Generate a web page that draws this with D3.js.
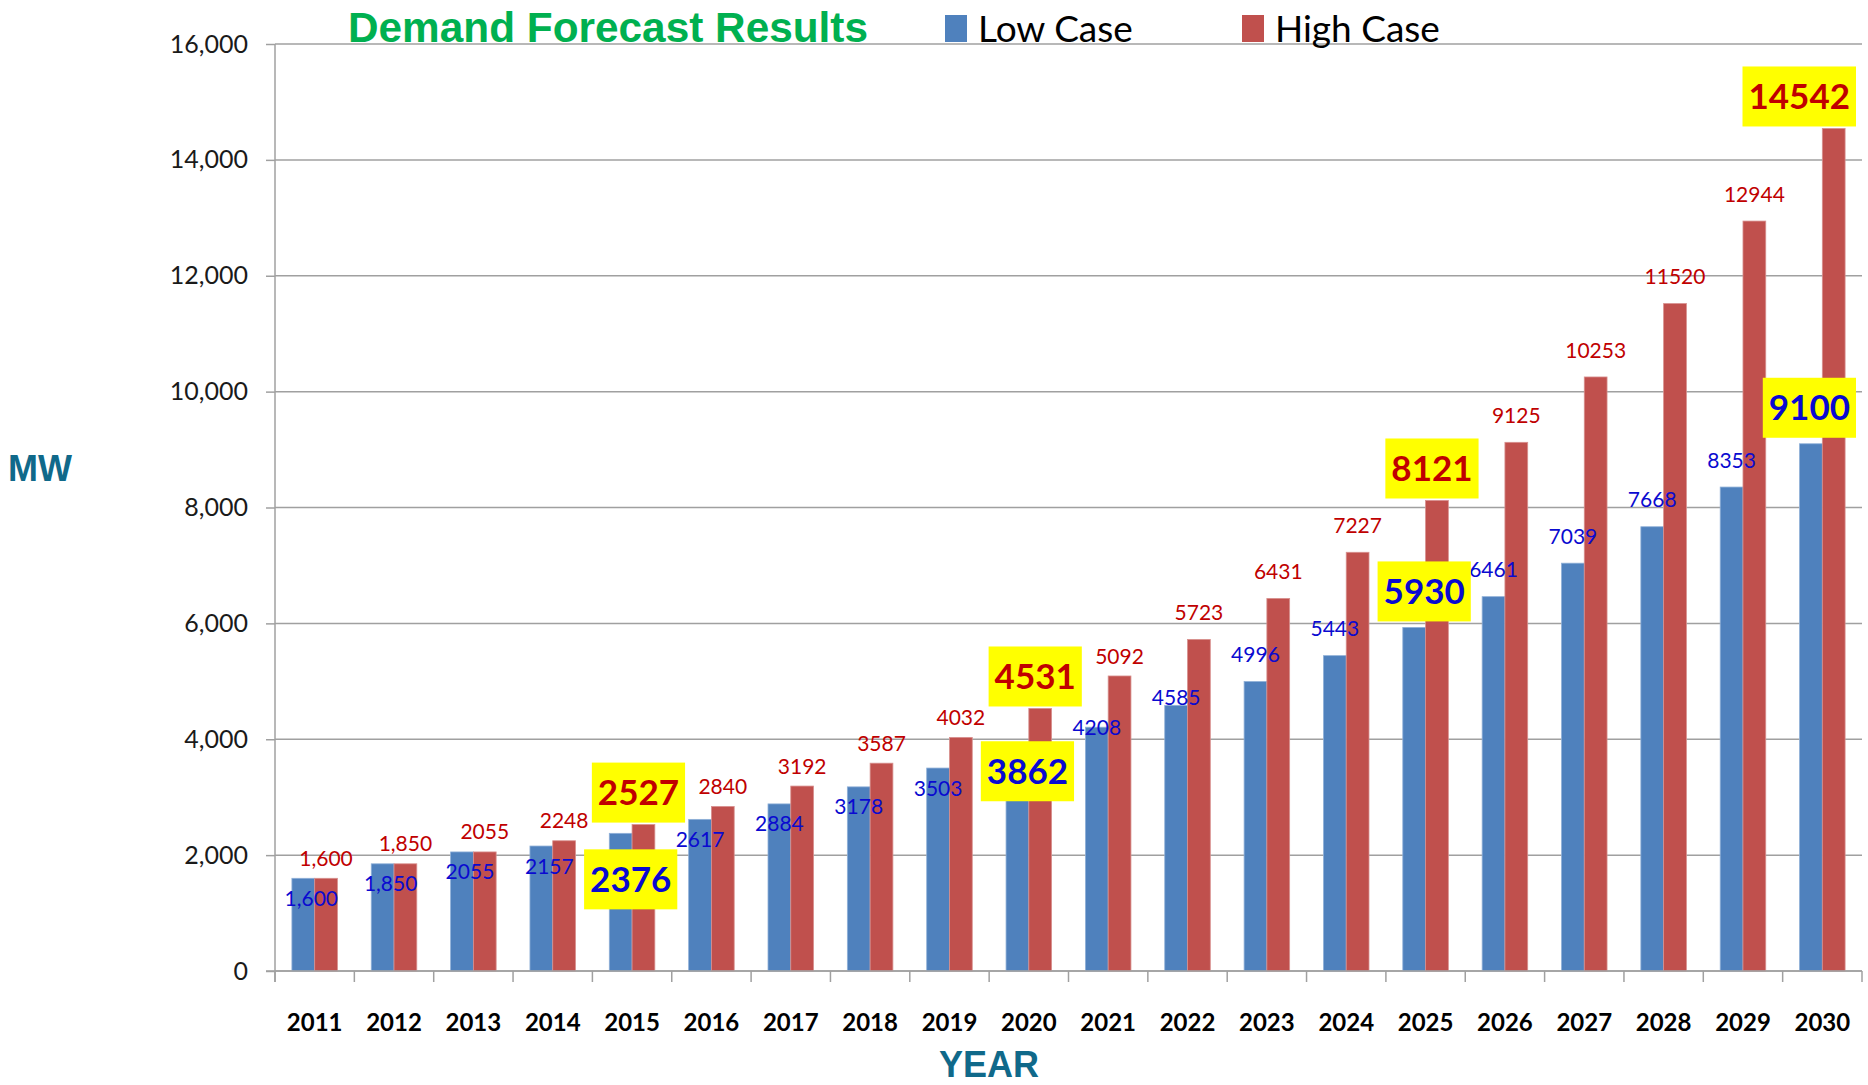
<!DOCTYPE html>
<html>
<head>
<meta charset="utf-8">
<script src="https://cdn.jsdelivr.net/npm/d3@7"></script>
<style>
  html, body { margin: 0; padding: 0; background: #fff; }
  svg { display: block; }
</style>
</head>
<body>
<div id="chart"></div>
<script>
// data
var years = [2011, 2012, 2013, 2014, 2015, 2016, 2017, 2018, 2019, 2020,
             2021, 2022, 2023, 2024, 2025, 2026, 2027, 2028, 2029, 2030];
var lowCase = [1600, 1850, 2055, 2157, 2376, 2617, 2884, 3178, 3503, 3862,
               4208, 4585, 4996, 5443, 5930, 6461, 7039, 7668, 8353, 9100];
var highCase = [1600, 1850, 2055, 2248, 2527, 2840, 3192, 3587, 4032, 4531,
                5092, 5723, 6431, 7227, 8121, 9125, 10253, 11520, 12944, 14542];
var highlightYears = [2015, 2020, 2025, 2030];
var commaYears = [2011, 2012];
var yTicks = [0, 2000, 4000, 6000, 8000, 10000, 12000, 14000, 16000];
var seriesNames = ["Low Case", "High Case"];

var W = 1868, H = 1085;
var plotLeft = 275, plotRight = 1862, plotTop = 44, plotBottom = 971;
var blue = "#4F81BD", red = "#C0504D";
var blueText = "#0A0AD0", redText = "#C00000";
var numFont = "Lato, 'Open Sans', sans-serif";
var arialFont = "'Liberation Sans', Arial, sans-serif";

var svg = d3.select("#chart").append("svg")
	.attr("width", W)
	.attr("height", H);

var x0 = d3.scaleBand().domain(years).range([plotLeft, plotRight]);
var bw = x0.bandwidth();
var gw = bw * 0.574;
var x1 = d3.scaleBand().domain(["low", "high"]).range([(bw - gw) / 2, (bw + gw) / 2]);
var y = d3.scaleLinear().domain([0, 16000]).range([plotBottom, plotTop]);

// gridlines + y axis
var yAxis = svg.append("g")
	.attr("transform", "translate(" + plotLeft + ",0)")
	.call(d3.axisLeft(y).tickValues(yTicks).tickSize(9).tickFormat(d3.format(",")));
yAxis.select(".domain").remove();
yAxis.selectAll(".tick line").attr("stroke", "#a0a0a0").attr("stroke-width", 1.5);
yAxis.selectAll(".tick text")
	.attr("x", -27)
	.attr("fill", "#1a1a1a")
	.style("font-family", numFont)
	.style("font-size", "25px");

svg.append("g").selectAll("line")
	.data(yTicks)
	.enter()
	.append("line")
	.attr("x1", plotLeft)
	.attr("x2", plotRight)
	.attr("y1", function (d) { return y(d); })
	.attr("y2", function (d) { return y(d); })
	.attr("stroke", "#a0a0a0")
	.attr("stroke-width", 1.5);

// bars
var rows = years.map(function (yr, i) {
	return { year: yr, i: i, low: lowCase[i], high: highCase[i] };
});

var groups = svg.selectAll(".grp")
	.data(rows)
	.enter()
	.append("g")
	.attr("class", "grp")
	.attr("transform", function (d) { return "translate(" + x0(d.year) + ",0)"; });

groups.append("rect")
	.attr("x", x1("low"))
	.attr("width", x1.bandwidth())
	.attr("y", function (d) { return y(d.low); })
	.attr("height", function (d) { return plotBottom - y(d.low); })
	.attr("fill", blue)
	.attr("stroke", "#8fb0d8")
	.attr("stroke-width", 0.8);

groups.append("rect")
	.attr("x", x1("high"))
	.attr("width", x1.bandwidth())
	.attr("y", function (d) { return y(d.high); })
	.attr("height", function (d) { return plotBottom - y(d.high); })
	.attr("fill", red)
	.attr("stroke", "#d8908e")
	.attr("stroke-width", 0.8);

// x axis
svg.append("line")
	.attr("x1", plotLeft - 9).attr("x2", plotRight)
	.attr("y1", plotBottom).attr("y2", plotBottom)
	.attr("stroke", "#a0a0a0").attr("stroke-width", 1.5);
svg.append("line")
	.attr("x1", plotLeft).attr("x2", plotLeft)
	.attr("y1", plotTop).attr("y2", plotBottom + 11)
	.attr("stroke", "#a0a0a0").attr("stroke-width", 1.5);

var edges = years.map(function (d) { return x0(d); }).concat([plotRight]);
svg.append("g").selectAll("line")
	.data(edges)
	.enter()
	.append("line")
	.attr("x1", function (d) { return d; })
	.attr("x2", function (d) { return d; })
	.attr("y1", plotBottom)
	.attr("y2", plotBottom + 11)
	.attr("stroke", "#a0a0a0")
	.attr("stroke-width", 1.5);

var xAxis = svg.append("g")
	.attr("transform", "translate(0," + plotBottom + ")")
	.call(d3.axisBottom(x0).tickSize(0).tickPadding(0));
xAxis.select(".domain").remove();
xAxis.selectAll(".tick text")
	.attr("y", 60)
	.attr("dy", 0)
	.attr("fill", "#000")
	.style("font-family", numFont)
	.style("font-weight", "bold")
	.style("font-size", "24px");

// labels
function fmt(d, v) {
	return commaYears.indexOf(d.year) >= 0 ? d3.format(",")(v) : String(v);
}
function isHi(d) { return highlightYears.indexOf(d.year) >= 0; }
function blueCenter(d) { return x0(d.year) + x1("low") + x1.bandwidth() / 2; }
function redCenter(d) { return x0(d.year) + x1("high") + x1.bandwidth() / 2; }

// low labels: early ones sit inside the bar top, later ones above it
function lowDy(i) {
	if (i <= 9) return 20;
	if (i == 10) return 0;
	if (i == 11) return -8;
	return -27;
}

var plain = rows.filter(function (d) { return !isHi(d); });

svg.selectAll(".lowlab")
	.data(plain)
	.enter()
	.append("text")
	.attr("class", "lowlab")
	.attr("x", function (d) { return blueCenter(d) + (d.i < 4 ? 8 : 0); })
	.attr("y", function (d) { return y(d.low) + lowDy(d.i); })
	.attr("dy", "0.36em")
	.attr("text-anchor", "middle")
	.attr("fill", blueText)
	.style("font-family", numFont)
	.style("font-size", "21px")
	.text(function (d) { return fmt(d, d.low); });

svg.selectAll(".highlab")
	.data(plain)
	.enter()
	.append("text")
	.attr("class", "highlab")
	.attr("x", function (d) { return redCenter(d); })
	.attr("y", function (d) { return y(d.high) - (d.i <= 10 ? 20 : 27); })
	.attr("dy", "0.36em")
	.attr("text-anchor", "middle")
	.attr("fill", redText)
	.style("font-family", numFont)
	.style("font-size", "21px")
	.text(function (d) { return fmt(d, d.high); });

// highlighted values in yellow boxes
var marked = rows.filter(isHi);
var boxes = [];
marked.forEach(function (d) {
	boxes.push({ d: d, v: d.high, color: redText,
		cx: redCenter(d) - 5, cy: y(d.high) - 32 });
	boxes.push({ d: d, v: d.low, color: blueText,
		cx: blueCenter(d) + 10, cy: y(d.low) + (d.i <= 4 ? 46 : d.i <= 9 ? 24 : -36) });
});

var bx = svg.selectAll(".hbox")
	.data(boxes)
	.enter()
	.append("g")
	.attr("class", "hbox");

bx.append("rect").attr("fill", "#FFFF00");
bx.append("text")
	.attr("text-anchor", "middle")
	.attr("dy", "0.36em")
	.attr("fill", function (b) { return b.color; })
	.style("font-family", numFont)
	.style("font-weight", "bold")
	.style("font-size", "35px")
	.text(function (b) { return fmt(b.d, b.v); });

bx.each(function (b) {
	var g = d3.select(this);
	var tw = g.select("text").node().getComputedTextLength();
	var w = tw + 12, h = 60;
	var cx = Math.min(b.cx, 1856 - w / 2);
	g.select("rect")
		.attr("x", cx - w / 2).attr("y", b.cy - h / 2)
		.attr("width", w).attr("height", h);
	g.select("text").attr("x", cx).attr("y", b.cy);
});

// title + legend
svg.append("text")
	.attr("x", 348)
	.attr("y", 42)
	.attr("fill", "#00B050")
	.style("font-family", arialFont)
	.style("font-weight", "bold")
	.style("font-size", "42px")
	.attr("textLength", 520)
	.attr("lengthAdjust", "spacingAndGlyphs")
	.text("Demand Forecast Results");

var legendX = [945, 1242];
var legend = svg.selectAll(".leg")
	.data(seriesNames)
	.enter()
	.append("g")
	.attr("class", "leg")
	.attr("transform", function (d, i) { return "translate(" + legendX[i] + ",0)"; });
legend.append("rect")
	.attr("x", 0).attr("y", 15)
	.attr("width", 22).attr("height", 27)
	.attr("fill", function (d, i) { return i == 0 ? blue : red; });
legend.append("text")
	.attr("x", 33)
	.attr("y", 42)
	.attr("fill", "#000")
	.style("font-family", numFont)
	.style("font-size", "37px")
	.text(function (d) { return d; });

// axis titles
svg.append("text")
	.attr("x", 8)
	.attr("y", 481)
	.attr("fill", "#10698A")
	.style("font-family", arialFont)
	.style("font-weight", "bold")
	.style("font-size", "36px")
	.text("MW");

svg.append("text")
	.attr("x", 989)
	.attr("y", 1077)
	.attr("text-anchor", "middle")
	.attr("fill", "#10698A")
	.style("font-family", arialFont)
	.style("font-weight", "bold")
	.style("font-size", "36px")
	.text("YEAR");
</script>
</body>
</html>
